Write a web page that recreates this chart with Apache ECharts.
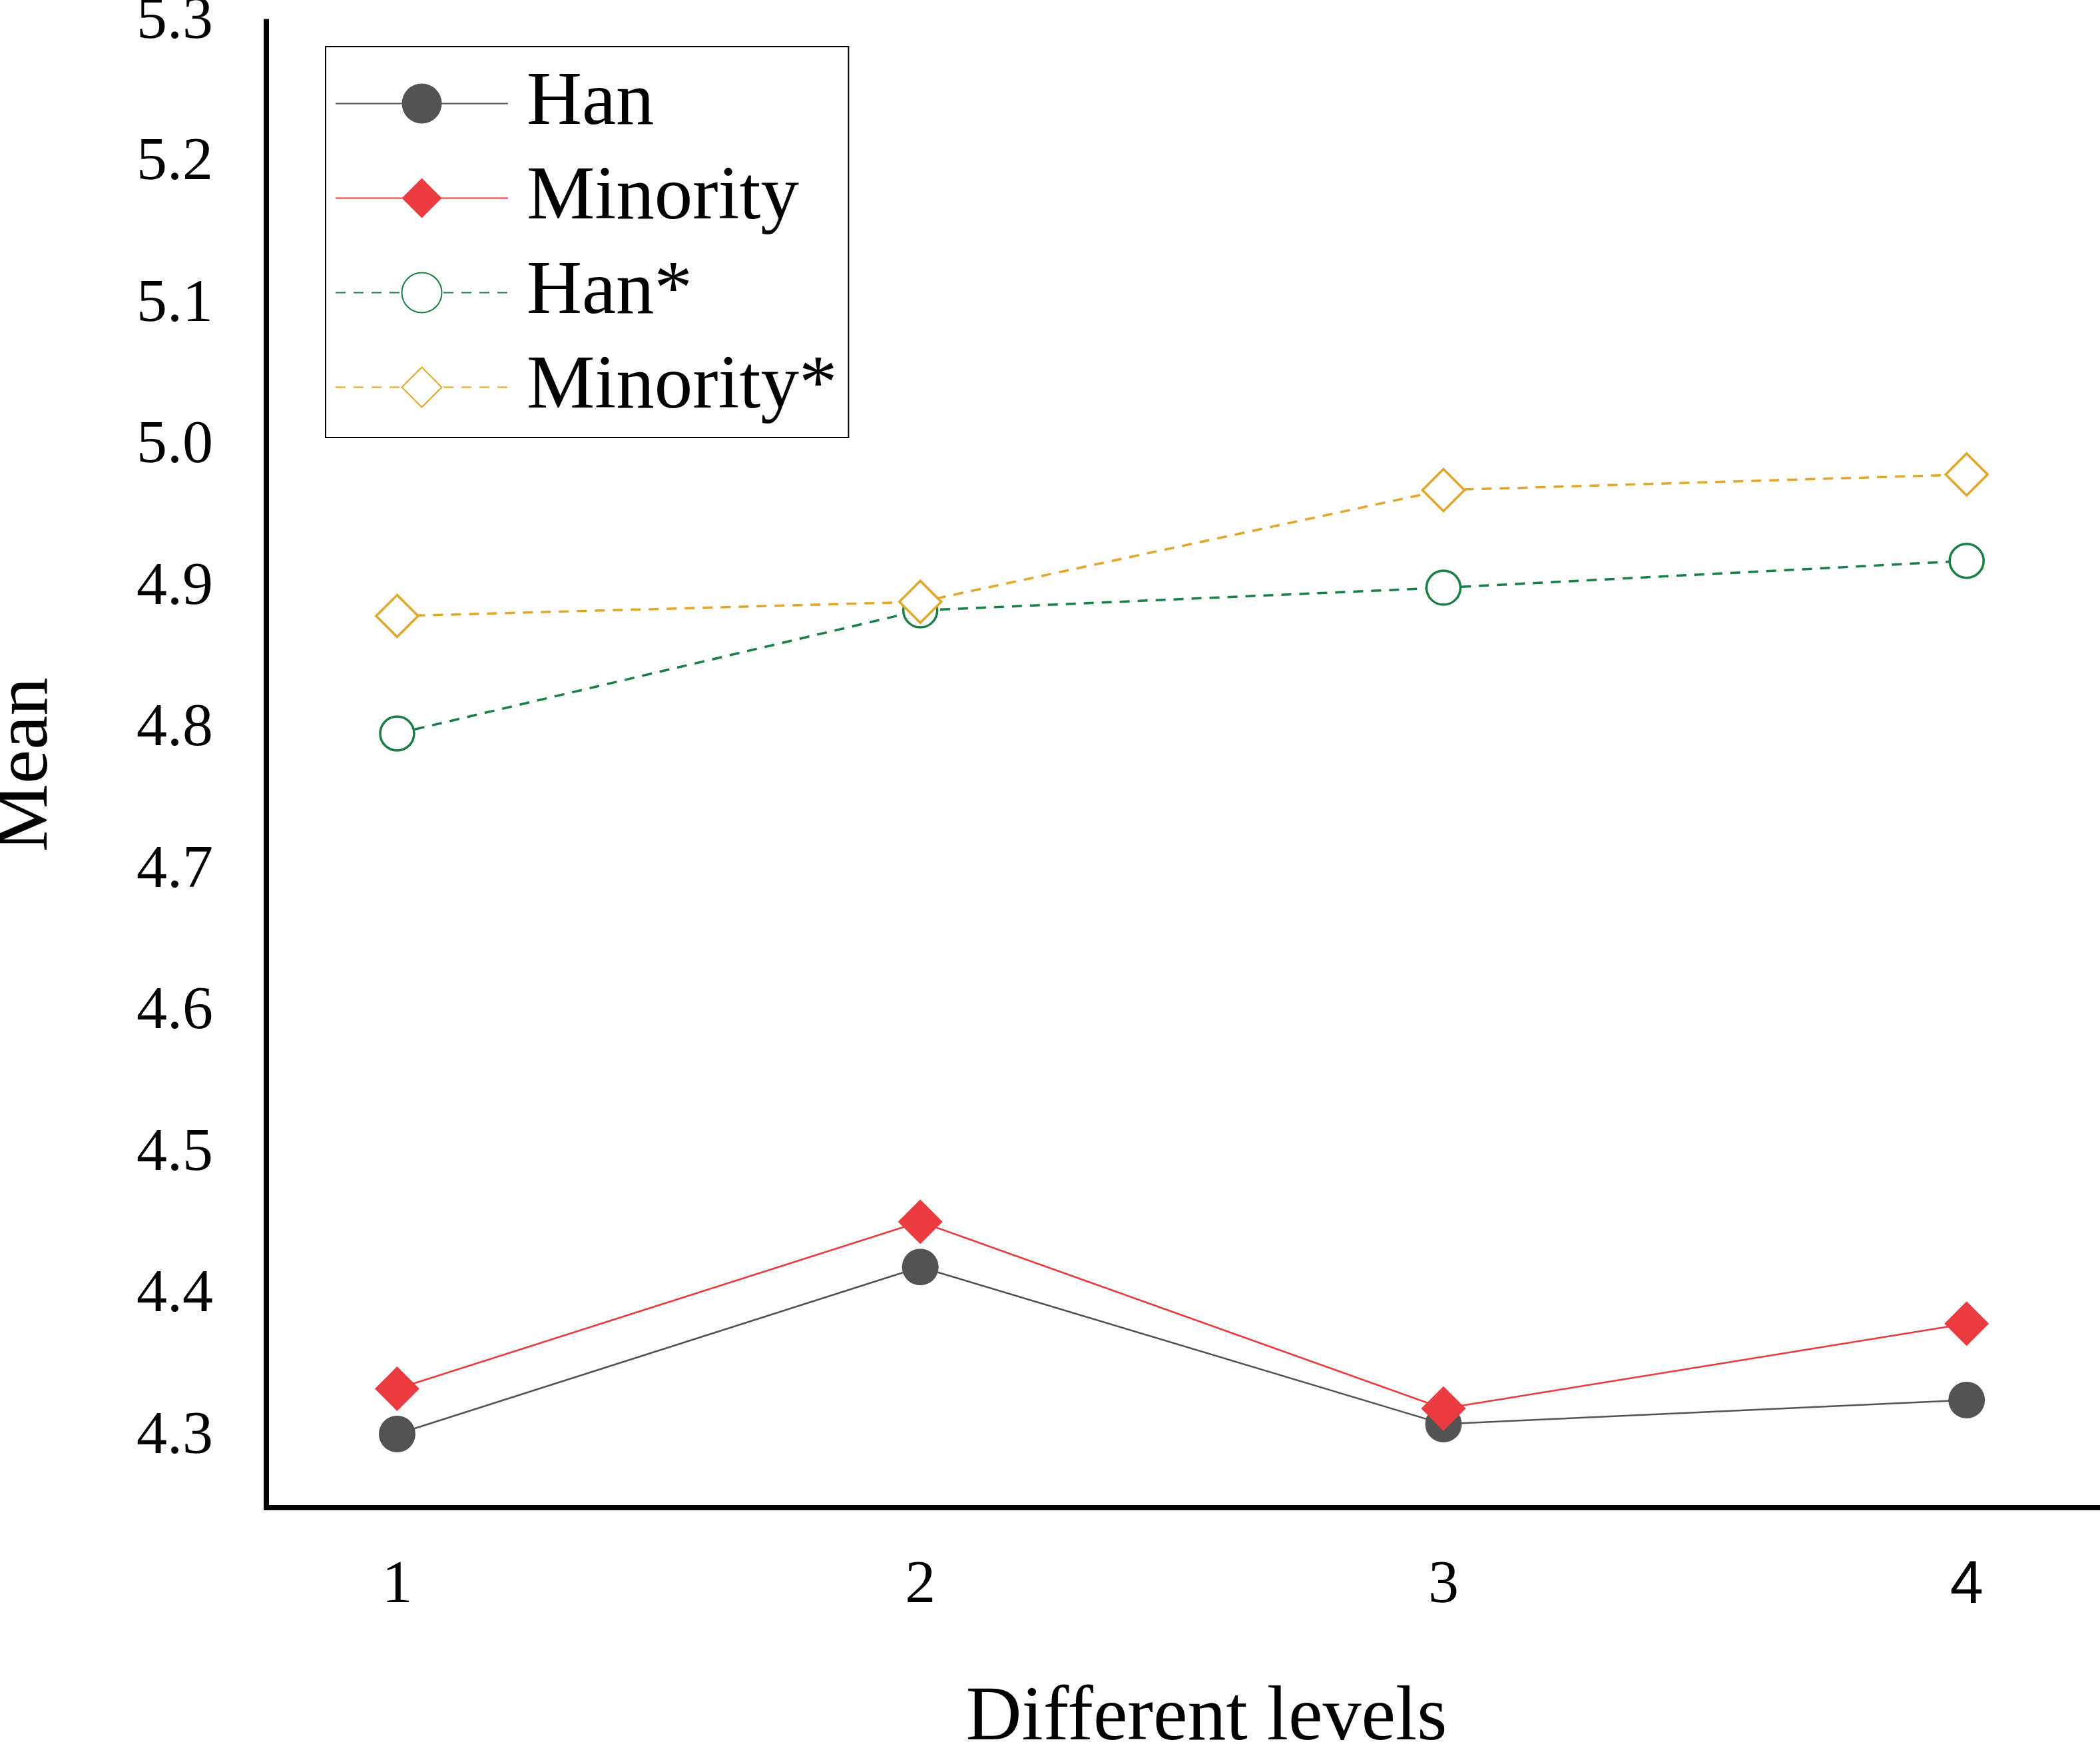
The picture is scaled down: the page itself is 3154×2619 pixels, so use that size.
<!DOCTYPE html>
<html>
<head>
<meta charset="utf-8">
<script src="https://cdn.jsdelivr.net/npm/echarts@6/dist/echarts.min.js"></script>
<style>
html,body{margin:0;padding:0;background:#fff;overflow:hidden;}
#chart{width:3154px;height:2619px;}
</style>
</head>
<body>
<div id="chart"></div>
<script>
const levels = [1, 2, 3, 4];
const han = [4.302, 4.420, 4.309, 4.326];
const minority = [4.334, 4.452, 4.320, 4.380];
const hanStar = [4.797, 4.884, 4.900, 4.919];
const minorityStar = [4.880, 4.890, 4.969, 4.980];
const yTickLabels = [4.3, 4.4, 4.5, 4.6, 4.7, 4.8, 4.9, 5.0, 5.1, 5.2, 5.3];
const xTickLabels = [1, 2, 3, 4];
const seriesNames = ['Han', 'Minority', 'Han*', 'Minority*'];

const SERIF = 'Liberation Serif, Times New Roman, serif';
const pairs = arr => levels.map((x, i) => [x, arr[i]]);

const chart = echarts.init(document.getElementById('chart'));
chart.setOption({
  backgroundColor: '#fff',
  animation: false,
  grid: { left: 400, right: -70, top: 32.5, bottom: 355, containLabel: false, outerBoundsMode: 'none' },
  xAxis: {
    type: 'value',
    min: 0.75,
    max: 4.344,
    interval: 0.25,
    name: 'Different levels',
    nameLocation: 'middle',
    nameGap: 260,
    nameTextStyle: { fontFamily: SERIF, fontSize: 116, lineHeight: 116, color: '#000' },
    axisLine: { onZero: false, lineStyle: { color: '#000', width: 8, cap: 'square' } },
    axisTick: { show: false },
    splitLine: { show: false },
    axisLabel: {
      margin: 72,
      fontFamily: SERIF,
      fontSize: 92,
      lineHeight: 92,
      color: '#000',
      formatter: v => {
        const t = xTickLabels.find(t => Math.abs(t - v) < 1e-6);
        if (t === undefined) return '';
        return t === 4 ? '{s|4}' : String(t);
      },
      rich: { s: { fontFamily: 'Liberation Sans, Arial, sans-serif', fontSize: 90, lineHeight: 92, color: '#000' } }
    }
  },
  yAxis: {
    type: 'value',
    min: 4.25,
    max: 5.3,
    interval: 0.05,
    name: 'Mean',
    nameLocation: 'middle',
    nameGap: 303,
    nameTextStyle: { fontFamily: SERIF, fontSize: 115, lineHeight: 115, color: '#000' },
    axisLine: { show: true, onZero: false, lineStyle: { color: '#000', width: 8, cap: 'square' } },
    axisTick: { show: false },
    splitLine: { show: false },
    axisLabel: {
      margin: 80,
      fontFamily: SERIF,
      fontSize: 92,
      color: '#000',
      formatter: v => {
        const t = yTickLabels.find(t => Math.abs(t - v) < 1e-6);
        return t === undefined ? '' : t.toFixed(1);
      }
    }
  },
  legend: {
    orient: 'vertical',
    left: 489,
    top: 70,
    padding: [28, 17, 18, 14],
    borderColor: '#000',
    borderWidth: 2,
    itemWidth: 259,
    itemHeight: 75,
    itemGap: 27,
    data: seriesNames,
    textStyle: { fontFamily: SERIF, fontSize: 115, lineHeight: 115, color: '#000', padding: [0, 0, 0, 23] }
  },
  series: [
    {
      name: seriesNames[0], type: 'line', data: pairs(han),
      symbol: 'circle', symbolSize: 55,
      itemStyle: { color: '#535353' },
      lineStyle: { color: '#535353', width: 2.5 }
    },
    {
      name: seriesNames[1], type: 'line', data: pairs(minority),
      symbol: 'diamond', symbolSize: 67,
      itemStyle: { color: '#ea3b40' },
      lineStyle: { color: '#ea3b40', width: 2.5 }
    },
    {
      name: seriesNames[2], type: 'line', data: pairs(hanStar),
      symbol: 'circle', symbolSize: 51,
      itemStyle: { color: '#ffffff', borderColor: '#1a7f45', borderWidth: 3.5 },
      lineStyle: { color: '#1a7f45', width: 3.5, type: [15, 12] }
    },
    {
      name: seriesNames[3], type: 'line', data: pairs(minorityStar),
      symbol: 'diamond', symbolSize: 63,
      itemStyle: { color: '#ffffff', borderColor: '#e2a72a', borderWidth: 3.5 },
      lineStyle: { color: '#e2a72a', width: 3.5, type: [15, 12] }
    }
  ]
});
</script>
</body>
</html>
